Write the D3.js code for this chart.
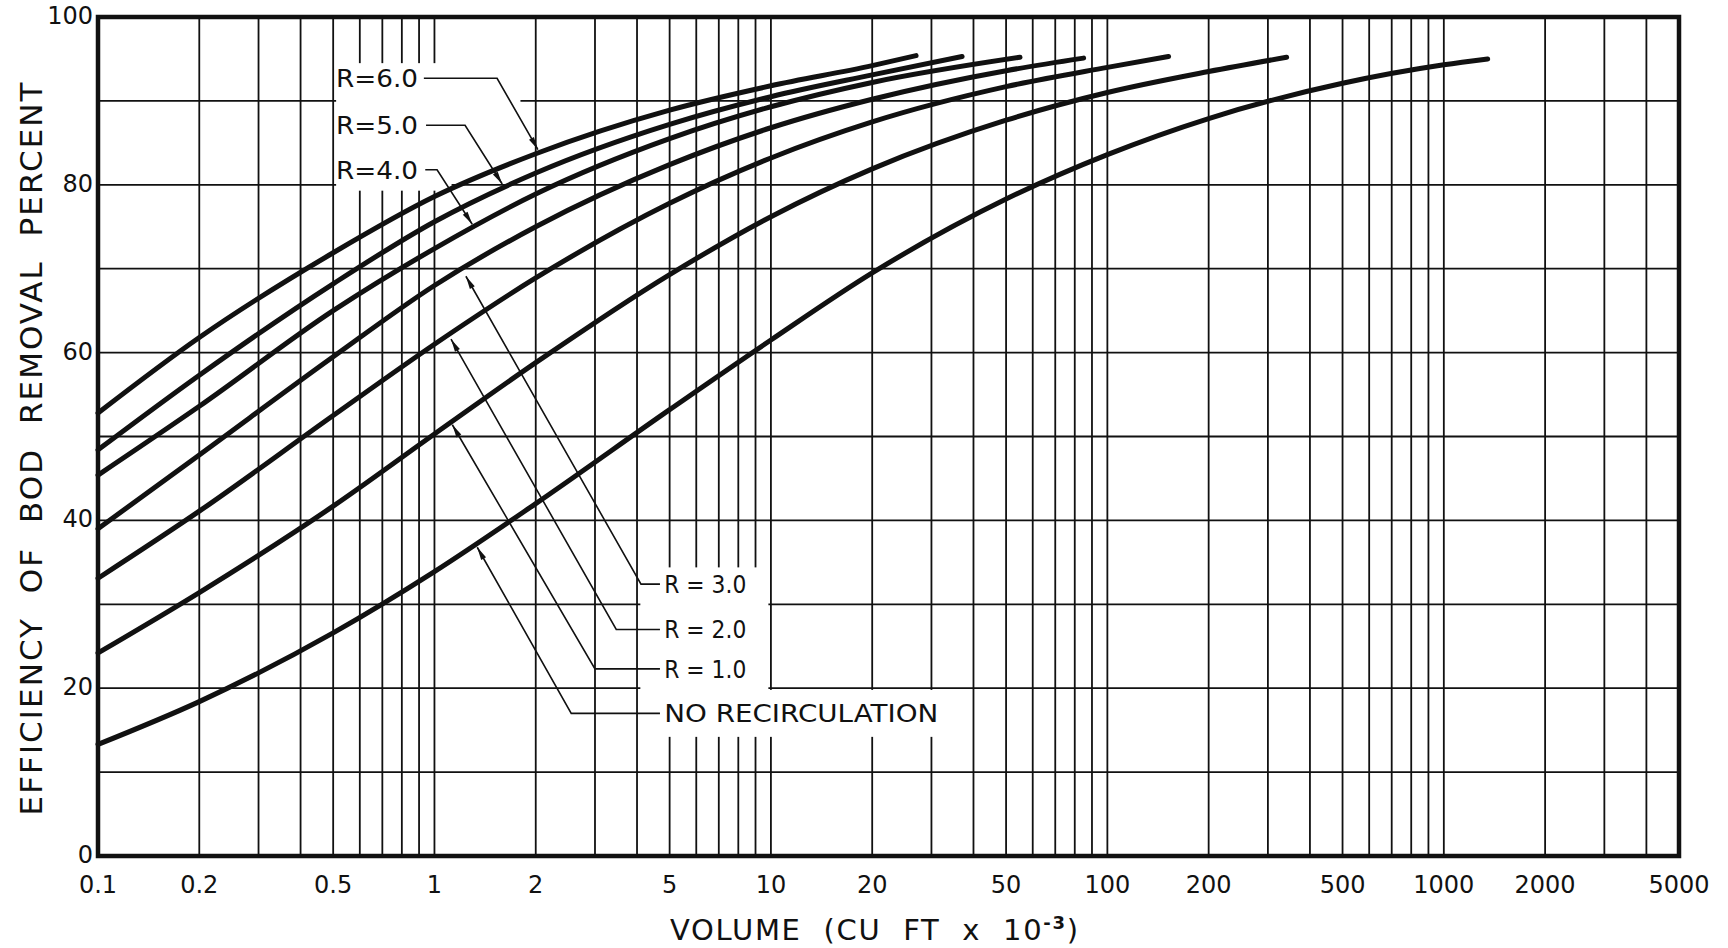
<!DOCTYPE html>
<html>
<head>
<meta charset="utf-8">
<script src="https://cdn.jsdelivr.net/npm/d3@7"></script>
<style>
body { margin: 0; background: #fff; }
svg { display: block; }
text { font-family: "DejaVu Sans", sans-serif; fill: #111; }
</style>
</head>
<body>
<svg id="chart" width="1728" height="948"></svg>
<script>
// 数据 (volume in cu ft x 10^-3, efficiency in percent)
var volNone = [0.1, 0.2, 0.5, 1, 2, 5, 10, 20, 50, 100, 200, 500, 1000, 1350];
var effNone = [13.3, 18.4, 26.6, 33.9, 42.0, 53.2, 61.5, 69.5, 78.3, 83.6, 87.9, 92.1, 94.3, 95.0];

var volR1 = [0.1, 0.2, 0.5, 1, 2, 5, 10, 20, 50, 100, 200, 341];
var effR1 = [24.2, 31.4, 41.7, 50.3, 58.8, 69.3, 76.2, 81.9, 87.7, 91.0, 93.5, 95.2];

var volR2 = [0.1, 0.2, 0.5, 1, 2, 5, 10, 20, 50, 100, 152];
var effR2 = [33.1, 41.1, 52.5, 61.0, 68.9, 77.8, 83.2, 87.5, 91.7, 94.0, 95.3];

var volR3 = [0.1, 0.2, 0.5, 1, 2, 5, 10, 20, 50, 85];
var effR3 = [39.0, 47.8, 59.5, 68.0, 75.0, 82.4, 86.8, 90.2, 93.6, 95.1];

var volR4 = [0.1, 0.2, 0.5, 1, 2, 5, 10, 20, 55];
var effR4 = [45.4, 53.6, 65.0, 72.4, 78.9, 85.5, 89.3, 92.2, 95.2];

var volR5 = [0.1, 0.2, 0.5, 1, 2, 5, 10, 20, 37];
var effR5 = [48.4, 57.3, 68.2, 75.6, 81.4, 87.2, 90.5, 93.1, 95.3];

var volR6 = [0.1, 0.2, 0.5, 1, 2, 5, 10, 20, 27];
var effR6 = [52.8, 61.8, 71.9, 78.6, 83.7, 88.9, 91.8, 94.2, 95.4];

var xTickLabels = [0.1, 0.2, 0.5, 1, 2, 5, 10, 20, 50, 100, 200, 500, 1000, 2000, 5000];
var yTickLabels = [0, 20, 40, 60, 80, 100];
var yGrid = [10, 20, 30, 40, 50, 60, 70, 80, 90];

var seriesLabels = ["R=6.0", "R=5.0", "R=4.0", "R = 3.0", "R = 2.0", "R = 1.0", "NO RECIRCULATION"];

// 标注引线: label point, then corner, then arrow tip (all in data units)
var leaderPoints = [
    [[0.93, 92.7], [1.535, 92.7], [2.03, 84.2]],
    [[0.944, 87.1], [1.233, 87.1], [1.59, 80.1]],
    [[0.939, 81.8], [1.018, 81.8], [1.295, 75.3]],
    [[4.68, 32.4], [4.11, 32.4], [1.24, 69.1]],
    [[4.68, 27.0], [3.47, 27.0], [1.12, 61.6]],
    [[4.68, 22.3], [3.0, 22.3], [1.13, 51.4]],
    [[4.68, 17.0], [2.55, 17.0], [1.34, 36.8]]
];
var labelAt = [[0.51, 92.7], [0.51, 87.1], [0.51, 81.8], [4.82, 32.4], [4.82, 27.0], [4.82, 22.3], [4.82, 17.0]];

// 标签背后留白的网格空隙 [x0, x1, y0, y1]
var gaps = [
    [0.505, 1.82, 84.0, 94.5],
    [0.505, 1.136, 79.3, 84.1],
    [4.05, 9.93, 14.2, 34.4],
    [9.6, 35.0, 14.2, 19.8]
];

var W = 1728, H = 948;
var margin = {left: 98, right: 49, top: 17, bottom: 92};
var svg = d3.select("#chart");
svg.append("rect").attr("width", W).attr("height", H).attr("fill", "#fff");

var x = d3.scaleLog().domain([0.1, 5000]).range([margin.left, W - margin.right]);
var y = d3.scaleLinear().domain([0, 100]).range([H - margin.bottom, margin.top]);

// 网格
var grid = svg.append("g").attr("stroke", "#111").attr("stroke-width", 1.8);
grid.selectAll(".vg")
    .data(x.ticks())
    .enter().append("line")
    .attr("x1", function(d) { return x(d); })
    .attr("x2", function(d) { return x(d); })
    .attr("y1", y(100))
    .attr("y2", y(0));
grid.selectAll(".hg")
    .data(yGrid)
    .enter().append("line")
    .attr("x1", x(0.1))
    .attr("x2", x(5000))
    .attr("y1", function(d) { return y(d); })
    .attr("y2", function(d) { return y(d); });

svg.append("g").selectAll("rect")
    .data(gaps)
    .enter().append("rect")
    .attr("x", function(d) { return x(d[0]) + 1.5; })
    .attr("width", function(d) { return x(d[1]) - x(d[0]) - 3; })
    .attr("y", function(d) { return y(d[3]); })
    .attr("height", function(d) { return y(d[2]) - y(d[3]); })
    .attr("fill", "#fff");

// 外框
svg.append("rect")
    .attr("x", x(0.1))
    .attr("y", y(100))
    .attr("width", x(5000) - x(0.1))
    .attr("height", y(0) - y(100))
    .attr("fill", "none")
    .attr("stroke", "#111")
    .attr("stroke-width", 4.5);

// 曲线
var series = [
    [volR6, effR6], [volR5, effR5], [volR4, effR4], [volR3, effR3],
    [volR2, effR2], [volR1, effR1], [volNone, effNone]
];
var line = d3.line()
    .x(function(d) { return x(d[0]); })
    .y(function(d) { return y(d[1]); })
    .curve(d3.curveMonotoneX);

svg.append("g").selectAll("path")
    .data(series)
    .enter().append("path")
    .attr("d", function(s) { return line(d3.zip(s[0], s[1])); })
    .attr("fill", "none")
    .attr("stroke", "#111")
    .attr("stroke-width", 5)
    .attr("stroke-linecap", "round");

// 引线和箭头
var leaderLine = d3.line()
    .x(function(d) { return x(d[0]); })
    .y(function(d) { return y(d[1]); });
var lg = svg.append("g");
lg.selectAll("path.leader")
    .data(leaderPoints)
    .enter().append("path")
    .attr("class", "leader")
    .attr("d", leaderLine)
    .attr("fill", "none")
    .attr("stroke", "#111")
    .attr("stroke-width", 1.6);
lg.selectAll("path.arrow")
    .data(leaderPoints)
    .enter().append("path")
    .attr("class", "arrow")
    .attr("d", function(p) {
        var a = p[p.length - 2], b = p[p.length - 1];
        var x0 = x(a[0]), y0 = y(a[1]), x1 = x(b[0]), y1 = y(b[1]);
        var len = Math.hypot(x1 - x0, y1 - y0);
        var ux = (x1 - x0) / len, uy = (y1 - y0) / len;
        var L = 13, w = 2.8;
        var bx = x1 - ux * L, by = y1 - uy * L;
        return "M" + x1 + "," + y1 + "L" + (bx - uy * w) + "," + (by + ux * w) +
            "L" + (bx + uy * w) + "," + (by - ux * w) + "Z";
    })
    .attr("fill", "#111");

lg.selectAll("text")
    .data(seriesLabels)
    .enter().append("text")
    .attr("x", function(d, i) { return x(labelAt[i][0]); })
    .attr("y", function(d, i) { return y(labelAt[i][1]) + 9; })
    .attr("font-size", 25)
    .attr("textLength", function(d) { return d.length > 8 ? 274 : 82; })
    .attr("lengthAdjust", "spacingAndGlyphs")
    .style("white-space", "pre")
    .text(function(d) { return d; });

// 坐标轴刻度
svg.append("g").selectAll("text")
    .data(xTickLabels)
    .enter().append("text")
    .attr("x", function(d) { return x(d); })
    .attr("y", y(0) + 37)
    .attr("text-anchor", "middle")
    .attr("font-size", 24)
    .text(function(d) { return d; });

svg.append("g").selectAll("text")
    .data(yTickLabels)
    .enter().append("text")
    .attr("x", x(0.1) - 5)
    .attr("y", function(d) { return y(d) + 7; })
    .attr("text-anchor", "end")
    .attr("font-size", 24)
    .text(function(d) { return d; });

// 轴标题
svg.append("text")
    .attr("transform", "translate(42,449) rotate(-90)")
    .attr("text-anchor", "middle")
    .attr("font-size", 31)
    .attr("textLength", 733)
    .attr("lengthAdjust", "spacing")
    .style("white-space", "pre")
    .text("EFFICIENCY  OF  BOD  REMOVAL  PERCENT");

var xt = svg.append("text")
    .attr("x", 670)
    .attr("y", 940)
    .attr("font-size", 29)
    .style("white-space", "pre")
    .attr("letter-spacing", 2);
xt.append("tspan").text("VOLUME  (CU  FT  x  10");
xt.append("tspan").attr("dy", -11).attr("font-size", 18).attr("font-weight", "bold").text("-3");
xt.append("tspan").attr("dy", 11).text(")");
var bw = xt.node().getBBox().width;
xt.attr("letter-spacing", 2 + (410 - bw) / 24);
</script>
</body>
</html>
